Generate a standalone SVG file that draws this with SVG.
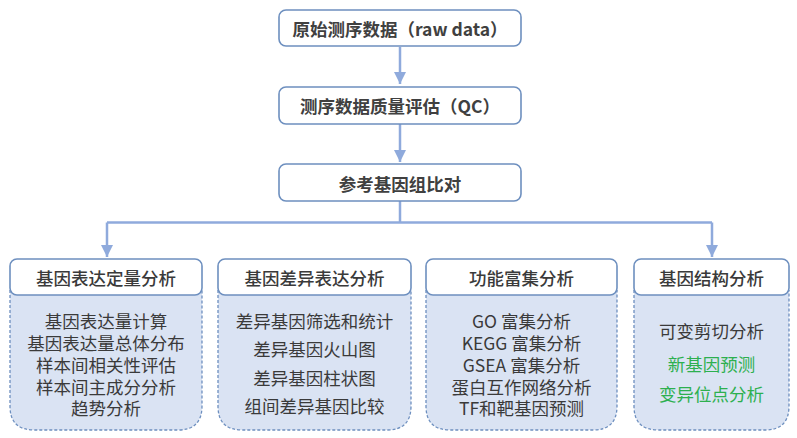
<svg xmlns="http://www.w3.org/2000/svg" width="797" height="438" viewBox="0 0 797 438">
<style>
.top rect{fill:#fff;stroke:#6d8fbf;stroke-width:1.6}
.top text{font-family:"Noto Sans CJK SC","Microsoft YaHei",sans-serif;font-size:17.5px;font-weight:bold;fill:#404040;text-anchor:middle;dominant-baseline:central}
.hd{fill:#fff;stroke:#6d8fbf;stroke-width:1.6}
.bd{fill:#dae3f3;stroke:#6d8fbf;stroke-width:1.3;stroke-dasharray:3 2}
.ht{font-family:"Noto Sans CJK SC","Microsoft YaHei",sans-serif;font-size:17.5px;font-weight:500;fill:#3a3a3a;text-anchor:middle;dominant-baseline:central}
.bt{font-family:"Noto Sans CJK SC","Microsoft YaHei",sans-serif;font-size:17.5px;fill:#3a3a3a;text-anchor:middle;dominant-baseline:central}
.g{fill:#2db04f}
.conn path{fill:none;stroke:#8faadc;stroke-width:2.5}
</style>
<defs>
<marker id="ah" markerUnits="userSpaceOnUse" markerWidth="14" markerHeight="14" viewBox="0 0 14 14" refX="12" refY="7" orient="auto">
<path d="M0,1 L12,7 L0,13 Z" fill="#8faadc"/>
</marker>
</defs>
<rect width="797" height="438" fill="#fff"/>
<g id="connectors" class="conn">
<path d="M400,47 L400,84" marker-end="url(#ah)"/>
<path d="M400,124 L400,162" marker-end="url(#ah)"/>
<path d="M400,201 L400,222.5"/>
<path d="M107,222.5 L712,222.5"/>
<path d="M107,222.5 L107,257" marker-end="url(#ah)"/>
<path d="M712,222.5 L712,257" marker-end="url(#ah)"/>
</g>
<g id="raw" class="top">
<rect x="279" y="10" width="242" height="36" rx="7"/>
<text x="400" y="28">原始测序数据（raw data）</text>
</g>
<g id="qc" class="top">
<rect x="279" y="87" width="242" height="37" rx="7"/>
<text x="400" y="105.5">测序数据质量评估（QC）</text>
</g>
<g id="align" class="top">
<rect x="279" y="164" width="242" height="37" rx="7"/>
<text x="400" y="183">参考基因组比对</text>
</g>
<g id="quant">
<path class="bd" d="M10,290 L10,406 Q10,430 34,430 L178,430 Q202,430 202,406 L202,290"/>
<rect class="hd" x="10" y="259" width="192" height="36" rx="7"/>
<text class="ht" x="106" y="277">基因表达定量分析</text>
<text class="bt"><tspan x="106" y="320">基因表达量计算</tspan><tspan x="106" y="342">基因表达量总体分布</tspan><tspan x="106" y="364">样本间相关性评估</tspan><tspan x="106" y="386">样本间主成分分析</tspan><tspan x="106" y="407">趋势分析</tspan></text>
</g>
<g id="diff">
<path class="bd" d="M218,290 L218,406 Q218,430 242,430 L387,430 Q411,430 411,406 L411,290"/>
<rect class="hd" x="218" y="259" width="193" height="36" rx="7"/>
<text class="ht" x="314.5" y="277">基因差异表达分析</text>
<text class="bt"><tspan x="314.5" y="320">差异基因筛选和统计</tspan><tspan x="314.5" y="348">差异基因火山图</tspan><tspan x="314.5" y="377">差异基因柱状图</tspan><tspan x="314.5" y="405">组间差异基因比较</tspan></text>
</g>
<g id="enrich">
<path class="bd" d="M426,290 L426,406 Q426,430 450,430 L593,430 Q617,430 617,406 L617,290"/>
<rect class="hd" x="426" y="259" width="191" height="36" rx="7"/>
<text class="ht" x="521.5" y="277">功能富集分析</text>
<text class="bt"><tspan x="521.5" y="320">GO 富集分析</tspan><tspan x="521.5" y="342">KEGG 富集分析</tspan><tspan x="521.5" y="364">GSEA 富集分析</tspan><tspan x="521.5" y="386">蛋白互作网络分析</tspan><tspan x="521.5" y="407">TF和靶基因预测</tspan></text>
</g>
<g id="struct">
<path class="bd" d="M634,290 L634,406 Q634,430 658,430 L765,430 Q789,430 789,406 L789,290"/>
<rect class="hd" x="634" y="259" width="155" height="36" rx="7"/>
<text class="ht" x="711.5" y="277">基因结构分析</text>
<text class="bt" x="711.5" y="330">可变剪切分析</text>
<text class="bt g" x="711.5" y="363">新基因预测</text>
<text class="bt g" x="711.5" y="393">变异位点分析</text>
</g>
</svg>
